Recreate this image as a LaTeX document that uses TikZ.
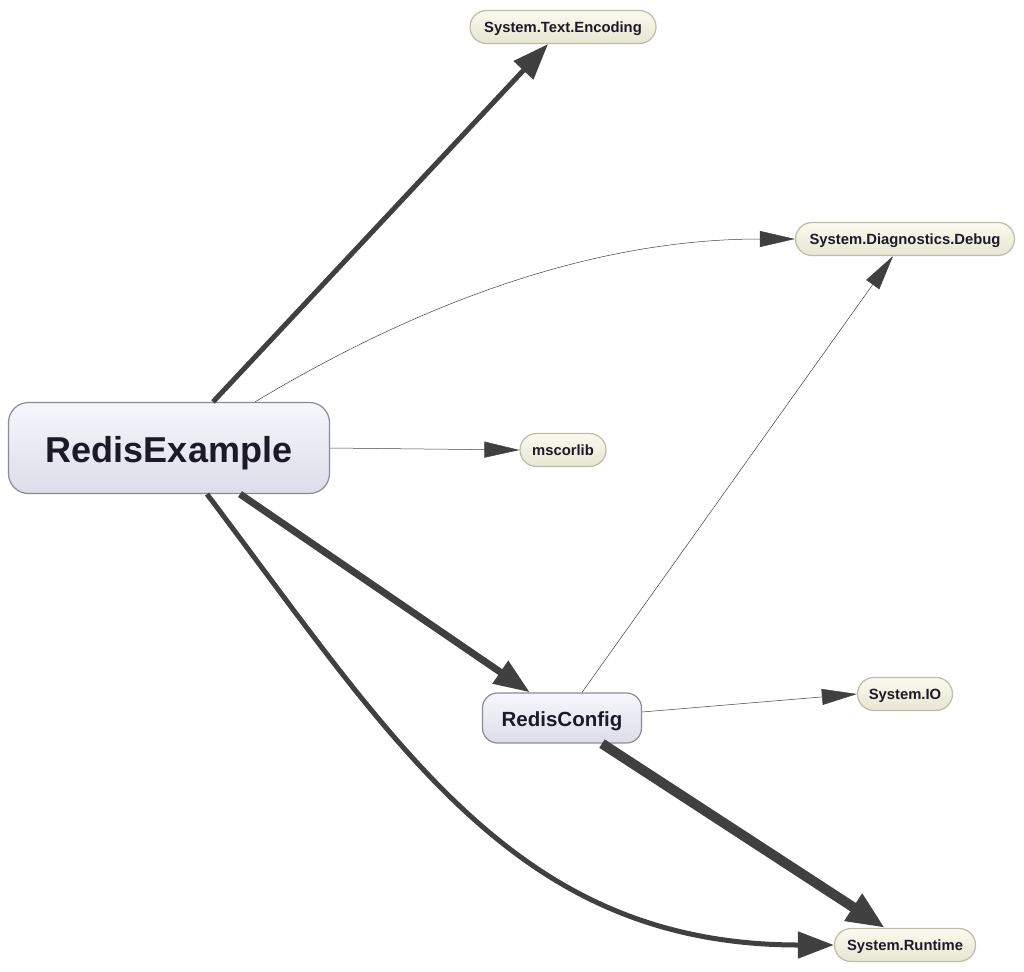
\documentclass[tikz,border=0pt]{standalone}
\usepackage{fontspec}
\setmainfont{Liberation Sans}
\usepackage{tikz}
\usetikzlibrary{arrows.meta, positioning}
\definecolor{edgegray}{HTML}{404040}
\definecolor{inktext}{HTML}{1C1A28}
\definecolor{lavtop}{HTML}{F6F6FC}
\definecolor{lavbot}{HTML}{DDDDEA}
\definecolor{lavline}{HTML}{8A8A9C}
\definecolor{creamtop}{HTML}{FAFAF0}
\definecolor{creambot}{HTML}{E6E6D2}
\definecolor{creamline}{HTML}{BDBDA6}
\tikzstyle{asm}=[draw=creamline,line width=1.2pt,top color=creamtop,bottom color=creambot,rounded corners=16.5pt,minimum height=33pt,inner sep=0pt,text depth=0pt,text=inktext,font=\bfseries\fontsize{14.8}{16}\selectfont]
\tikzstyle{proj}=[draw=lavline,line width=1.2pt,top color=lavtop,bottom color=lavbot,inner sep=0pt,text depth=0pt,text=inktext]
\tikzstyle{thin}=[-{Triangle[length=35pt,width=16pt]},line width=0.5pt,color=edgegray]
\tikzstyle{fat}=[-{Triangle[length=36pt,width=26pt]},color=edgegray]

\begin{document}
\begin{tikzpicture}[x=1pt,y=-1pt]
  \useasboundingbox (0,0) rectangle (1024,971);
  % nodes
  \node[proj,rounded corners=20pt,minimum width=321pt,minimum height=91pt,font=\bfseries\fontsize{36}{40}\selectfont] (re) at (169,448) {\raisebox{-3pt}{RedisExample}};
  \node[proj,rounded corners=15pt,minimum width=159pt,minimum height=50pt,font=\bfseries\fontsize{20.5}{24}\selectfont] (rc) at (562,718) {\raisebox{-3pt}{RedisConfig}};
  \node[asm,minimum width=186pt] (ste) at (563,27) {System.Text.Encoding};
  \node[asm,minimum width=219pt] (sdd) at (905,239) {System.Diagnostics.Debug};
  \node[asm,minimum width=86pt] (msc) at (563,450) {mscorlib};
  \node[asm,minimum width=95pt] (sio) at (905,694) {System.IO};
  \node[asm,minimum width=141pt] (srt) at (905,945) {System.Runtime};
  % dependencies
  \draw[fat,line width=5pt] ([xshift=44pt]re.north) -- ([xshift=-15pt]ste.south);
  \draw[thin] ([xshift=86pt]re.north) to[out=31,in=180,looseness=0.9] (sdd.west);
  \draw[thin] (re.east) -- (msc.west);
  \draw[fat,line width=7pt] ([xshift=71pt]re.south) -- ([xshift=-32pt]rc.north);
  \draw[fat,line width=5pt] ([xshift=38pt]re.south) to[out=-53,in=180,looseness=1.05] (srt.west);
  \draw[thin] ([xshift=20pt]rc.north) -- ([xshift=-12pt]sdd.south);
  \draw[thin] ([yshift=6pt]rc.east) -- (sio.west);
  \draw[fat,line width=10pt,-{Triangle[length=38pt,width=30pt]}] ([xshift=40pt]rc.south) -- ([xshift=-20pt]srt.north);
\end{tikzpicture}
\end{document}
